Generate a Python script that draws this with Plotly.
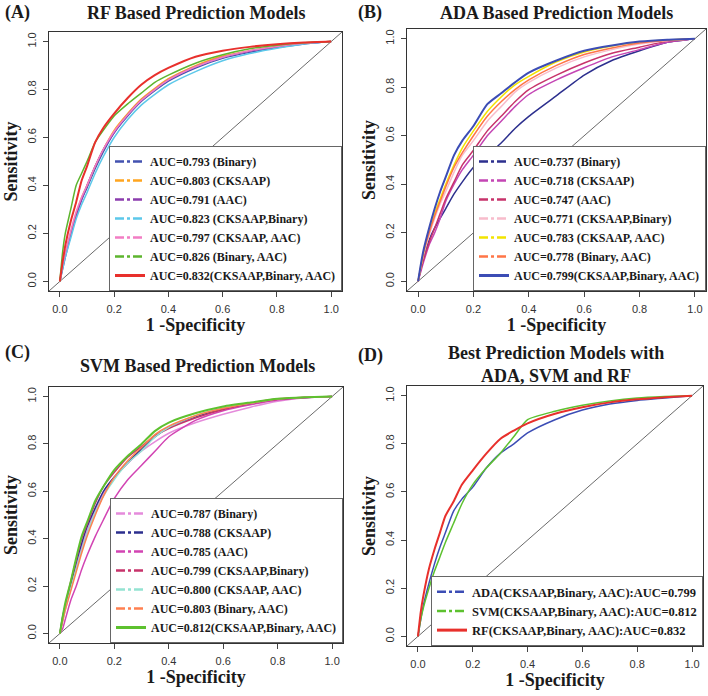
import plotly.graph_objects as go

# ---------------- data ----------------
FPR = [0, 0.01, 0.02, 0.04, 0.06, 0.08, 0.10, 0.13, 0.16, 0.20, 0.25, 0.30,
       0.35, 0.40, 0.50, 0.60, 0.70, 0.80, 0.90, 1.0]

# (A) RF
RF_BINARY = [0, 0.06, 0.11, 0.20, 0.28, 0.34, 0.39, 0.47, 0.54, 0.62, 0.69, 0.75, 0.795, 0.835, 0.89, 0.93, 0.955, 0.975, 0.99, 1]
RF_CKSAAP = [0, 0.06, 0.11, 0.20, 0.28, 0.35, 0.40, 0.48, 0.55, 0.63, 0.70, 0.76, 0.805, 0.845, 0.90, 0.94, 0.962, 0.98, 0.993, 1]
RF_AAC = [0, 0.05, 0.10, 0.19, 0.27, 0.34, 0.40, 0.48, 0.55, 0.62, 0.695, 0.755, 0.80, 0.84, 0.895, 0.935, 0.96, 0.978, 0.992, 1]
RF_CKSAAP_BINARY = [0, 0.05, 0.10, 0.18, 0.26, 0.32, 0.37, 0.45, 0.52, 0.60, 0.675, 0.735, 0.78, 0.82, 0.875, 0.92, 0.95, 0.972, 0.99, 1]
RF_CKSAAP_AAC = [0, 0.07, 0.12, 0.21, 0.29, 0.35, 0.40, 0.48, 0.55, 0.625, 0.695, 0.755, 0.80, 0.84, 0.895, 0.935, 0.962, 0.98, 0.993, 1]
RF_BINARY_AAC = [0, 0.12, 0.20, 0.30, 0.40, 0.45, 0.50, 0.58, 0.63, 0.69, 0.74, 0.785, 0.83, 0.86, 0.91, 0.945, 0.97, 0.985, 0.995, 1]
RF_ALL = [0, 0.08, 0.15, 0.25, 0.33, 0.42, 0.48, 0.58, 0.64, 0.70, 0.765, 0.82, 0.86, 0.89, 0.937, 0.962, 0.978, 0.989, 0.996, 1]

# (B) ADA
ADA_BINARY = [0, 0.05, 0.10, 0.17, 0.22, 0.26, 0.30, 0.36, 0.41, 0.47, 0.52, 0.57, 0.63, 0.68, 0.765, 0.85, 0.91, 0.95, 0.985, 1]
ADA_CKSAAP = [0, 0.04, 0.08, 0.15, 0.20, 0.26, 0.33, 0.40, 0.46, 0.52, 0.60, 0.66, 0.72, 0.77, 0.83, 0.88, 0.925, 0.955, 0.985, 1]
ADA_AAC = [0, 0.05, 0.09, 0.16, 0.22, 0.28, 0.34, 0.41, 0.48, 0.54, 0.62, 0.68, 0.74, 0.79, 0.85, 0.90, 0.94, 0.965, 0.99, 1]
ADA_CKSAAP_BINARY = [0, 0.06, 0.11, 0.19, 0.26, 0.32, 0.37, 0.45, 0.52, 0.58, 0.66, 0.72, 0.78, 0.82, 0.88, 0.925, 0.955, 0.978, 0.992, 1]
ADA_CKSAAP_AAC = [0, 0.06, 0.12, 0.21, 0.28, 0.34, 0.40, 0.48, 0.55, 0.62, 0.70, 0.76, 0.81, 0.845, 0.905, 0.945, 0.97, 0.986, 0.995, 1]
ADA_BINARY_AAC = [0, 0.06, 0.12, 0.20, 0.27, 0.33, 0.39, 0.47, 0.53, 0.60, 0.68, 0.74, 0.79, 0.83, 0.89, 0.935, 0.962, 0.982, 0.994, 1]
ADA_ALL = [0, 0.07, 0.13, 0.22, 0.30, 0.37, 0.43, 0.52, 0.58, 0.64, 0.73, 0.775, 0.82, 0.86, 0.91, 0.95, 0.972, 0.988, 0.996, 1]

# (C) SVM
SVM_BINARY = [0, 0.06, 0.11, 0.20, 0.28, 0.36, 0.43, 0.52, 0.59, 0.66, 0.72, 0.77, 0.81, 0.845, 0.89, 0.925, 0.955, 0.98, 0.995, 1]
SVM_CKSAAP = [0, 0.07, 0.12, 0.21, 0.30, 0.38, 0.45, 0.53, 0.60, 0.66, 0.72, 0.78, 0.83, 0.87, 0.915, 0.948, 0.97, 0.988, 0.996, 1]
SVM_AAC = [0, 0.02, 0.06, 0.14, 0.20, 0.27, 0.33, 0.41, 0.48, 0.57, 0.65, 0.71, 0.77, 0.83, 0.90, 0.94, 0.965, 0.985, 0.995, 1]
SVM_CKSAAP_BINARY = [0, 0.06, 0.12, 0.22, 0.31, 0.40, 0.46, 0.55, 0.62, 0.68, 0.745, 0.79, 0.835, 0.865, 0.91, 0.945, 0.97, 0.988, 0.996, 1]
SVM_CKSAAP_AAC = [0, 0.05, 0.10, 0.19, 0.27, 0.35, 0.42, 0.51, 0.58, 0.65, 0.72, 0.77, 0.83, 0.87, 0.92, 0.952, 0.972, 0.99, 0.997, 1]
SVM_BINARY_AAC = [0, 0.05, 0.10, 0.18, 0.26, 0.34, 0.41, 0.50, 0.58, 0.66, 0.73, 0.785, 0.84, 0.875, 0.92, 0.95, 0.972, 0.99, 0.997, 1]
SVM_ALL = [0, 0.07, 0.13, 0.22, 0.32, 0.41, 0.47, 0.56, 0.62, 0.69, 0.75, 0.80, 0.855, 0.89, 0.93, 0.958, 0.975, 0.99, 0.997, 1]

# (D) best models
BEST_ADA = [0, 0.07, 0.13, 0.22, 0.30, 0.37, 0.43, 0.52, 0.57, 0.62, 0.70, 0.76, 0.80, 0.845, 0.90, 0.94, 0.965, 0.98, 0.99, 1]
BEST_SVM = [0, 0.07, 0.12, 0.20, 0.27, 0.33, 0.39, 0.47, 0.55, 0.63, 0.70, 0.76, 0.83, 0.90, 0.935, 0.96, 0.978, 0.99, 0.996, 1]
BEST_RF = [0, 0.10, 0.17, 0.28, 0.36, 0.43, 0.50, 0.56, 0.63, 0.69, 0.76, 0.82, 0.855, 0.885, 0.925, 0.952, 0.972, 0.985, 0.993, 1]

PANEL_TITLES = ["RF Based Prediction Models", "ADA Based Prediction Models",
                "SVM Based Prediction Models", "Best Prediction Models with<br>ADA, SVM and RF"]
PANEL_TAGS = ["(A)", "(B)", "(C)", "(D)"]

A_LABELS = ["AUC=0.793 (Binary)", "AUC=0.803 (CKSAAP)", "AUC=0.791 (AAC)", "AUC=0.823 (CKSAAP,Binary)",
            "AUC=0.797 (CKSAAP, AAC)", "AUC=0.826 (Binary, AAC)", "AUC=0.832(CKSAAP,Binary, AAC)"]
B_LABELS = ["AUC=0.737 (Binary)", "AUC=0.718 (CKSAAP)", "AUC=0.747 (AAC)", "AUC=0.771 (CKSAAP,Binary)",
            "AUC=0.783 (CKSAAP, AAC)", "AUC=0.778 (Binary, AAC)", "AUC=0.799(CKSAAP,Binary, AAC)"]
C_LABELS = ["AUC=0.787 (Binary)", "AUC=0.788 (CKSAAP)", "AUC=0.785 (AAC)", "AUC=0.799 (CKSAAP,Binary)",
            "AUC=0.800 (CKSAAP, AAC)", "AUC=0.803 (Binary, AAC)", "AUC=0.812(CKSAAP,Binary, AAC)"]
D_LABELS = ["ADA(CKSAAP,Binary, AAC):AUC=0.799", "SVM(CKSAAP,Binary, AAC):AUC=0.812",
            "RF(CKSAAP,Binary, AAC):AUC=0.832"]

A_COLORS = ["#4352B0", "#FFA51F", "#8C3DAE", "#5CC8EA", "#F27DC4", "#5DB52E", "#E8302C"]
B_COLORS = ["#2C2F8E", "#C445B4", "#C7336B", "#F8BCCB", "#F2E400", "#FF7547", "#3C4DB5"]
C_COLORS = ["#E58BDB", "#2C2F8E", "#D244B3", "#C7336B", "#94E3D2", "#FF8050", "#5DC12F"]
D_COLORS = ["#3C4DB5", "#5DC12F", "#E8302C"]

TICKS = [0, 0.2, 0.4, 0.6, 0.8, 1.0]
TICK_TEXT = ["0.0", "0.2", "0.4", "0.6", "0.8", "1.0"]

SERIES = [
    (A_LABELS, A_COLORS, [RF_BINARY, RF_CKSAAP, RF_AAC, RF_CKSAAP_BINARY, RF_CKSAAP_AAC, RF_BINARY_AAC, RF_ALL]),
    (B_LABELS, B_COLORS, [ADA_BINARY, ADA_CKSAAP, ADA_AAC, ADA_CKSAAP_BINARY, ADA_CKSAAP_AAC, ADA_BINARY_AAC, ADA_ALL]),
    (C_LABELS, C_COLORS, [SVM_BINARY, SVM_CKSAAP, SVM_AAC, SVM_CKSAAP_BINARY, SVM_CKSAAP_AAC, SVM_BINARY_AAC, SVM_ALL]),
    (D_LABELS, D_COLORS, [BEST_ADA, BEST_SVM, BEST_RF]),
]

# ---------------- layout geometry ----------------
W, H = 708, 696
# panel boxes in pixels: (left, right, top, bottom)
BOXES = [(49, 342, 32, 291), (407, 706, 29, 291), (49, 343, 387, 643), (407, 703, 386, 646)]
TITLE_POS = [(196, 13), (556, 13), (198, 366), (556, 364)]
TAG_POS = [(3, 13), (356, 13), (3, 352), (356, 355)]
LEGEND_FONT = [12, 12, 12, 12.5]

SERIF = "Liberation Serif"
SANS = "Liberation Sans"

fig = go.Figure()
layout = dict(width=W, height=H, margin=dict(l=0, r=0, t=0, b=0),
              paper_bgcolor="white", plot_bgcolor="white", showlegend=True,
              annotations=[])

for i, (labels, colors, curves) in enumerate(SERIES):
    n = i + 1
    xa = "x" if n == 1 else f"x{n}"
    ya = "y" if n == 1 else f"y{n}"
    lg = "legend" if n == 1 else f"legend{n}"
    l, r, t, b = BOXES[i]
    axcommon = dict(range=[-0.04, 1.04], tickvals=TICKS, ticktext=TICK_TEXT, ticks="outside",
                    ticklen=5, tickwidth=1, tickcolor="#444", showline=True, mirror=True,
                    linecolor="#333", linewidth=1, showgrid=False, zeroline=False,
                    ticklabelstandoff=3,
                    tickfont=dict(family=SANS, size=11, color="#333"), fixedrange=True)
    layout["xaxis" if n == 1 else f"xaxis{n}"] = dict(
        axcommon, domain=[l / W, r / W], anchor=ya,
        title=dict(text="1 -Specificity", standoff=3,
                   font=dict(family=SERIF, size=18, color="#1a1a1a", weight="bold")))
    layout["yaxis" if n == 1 else f"yaxis{n}"] = dict(
        axcommon, domain=[1 - b / H, 1 - t / H], anchor=xa, tickangle=-90,
        title=dict(text="Sensitivity", standoff=3,
                   font=dict(family=SERIF, size=18, color="#1a1a1a", weight="bold")))
    layout[lg] = dict(x=r / W, y=1 - b / H, xanchor="right", yanchor="bottom",
                      bgcolor="white", bordercolor="#666", borderwidth=1,
                      font=dict(family=SERIF, size=LEGEND_FONT[i], color="#1a1a1a", weight="bold"),
                      itemwidth=30, tracegroupgap=0)

    # diagonal reference line
    fig.add_trace(go.Scatter(x=[-0.04, 1.04], y=[-0.04, 1.04], mode="lines",
                             line=dict(color="#444", width=0.8), showlegend=False,
                             hoverinfo="skip", xaxis=xa, yaxis=ya))
    # curves
    for j, (lab, col, tpr) in enumerate(zip(labels, colors, curves)):
        best = j == len(labels) - 1
        fig.add_trace(go.Scatter(x=FPR, y=tpr, mode="lines", name=lab,
                                 line=dict(color=col, width=2 if best else 1.5, shape="spline", smoothing=0.6),
                                 showlegend=False, xaxis=xa, yaxis=ya))
    # legend entries (R-style dashed keys, solid key for the combined model)
    for j, (lab, col) in enumerate(zip(labels, colors)):
        best = j == len(labels) - 1
        fig.add_trace(go.Scatter(x=[None], y=[None], mode="lines", name=lab,
                                 line=dict(color=col, width=3 if best else 2.5,
                                           dash="solid" if best else "dashdot"),
                                 legend=lg, showlegend=True, xaxis=xa, yaxis=ya))

    tx, ty = TITLE_POS[i]
    layout["annotations"].append(dict(text=PANEL_TITLES[i], x=tx / W, y=1 - ty / H, xref="paper", yref="paper",
                                      xanchor="center", yanchor="middle", showarrow=False,
                                      font=dict(family=SERIF, size=18, color="#1a1a1a", weight="bold")))
    px, py = TAG_POS[i]
    layout["annotations"].append(dict(text=PANEL_TAGS[i], x=px / W, y=1 - py / H, xref="paper", yref="paper",
                                      xanchor="left", yanchor="middle", showarrow=False,
                                      font=dict(family=SERIF, size=18, color="#1a1a1a", weight="bold")))

fig.update_layout(**layout)
fig.write_html("out.html", config={"displayModeBar": False},
               post_script="document.body.style.margin='0';document.body.style.padding='0';"
                           "document.body.style.overflow='hidden';")
